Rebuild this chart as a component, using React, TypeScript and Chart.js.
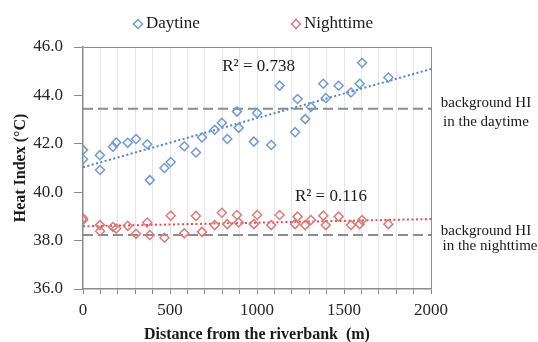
import React, { useEffect, useRef } from "react";
import { Chart, registerables } from "chart.js";
Chart.register(...registerables);

// Distance from the riverbank (m)
const distances = [0, 0, 97, 98, 172, 191, 257, 305, 369, 384, 468, 504, 582, 649, 684, 757, 798, 829, 885, 895, 982, 1001, 1082, 1130, 1219, 1233, 1277, 1310, 1381, 1395, 1469, 1540, 1590, 1604, 1755];
// Heat index, daytime (°C)
const daytime = [41.75, 41.36, 41.53, 40.92, 41.88, 42.05, 42.04, 42.2, 41.98, 40.5, 41.0, 41.25, 41.9, 41.64, 42.26, 42.58, 42.87, 42.2, 43.33, 42.66, 42.09, 43.27, 41.95, 44.4, 42.48, 43.85, 43.02, 43.52, 44.48, 43.89, 44.4, 44.12, 44.48, 45.35, 44.74];
// Heat index, nighttime (°C)
const nighttime = [38.92, 38.85, 38.64, 38.39, 38.56, 38.5, 38.61, 38.28, 38.75, 38.23, 38.12, 39.03, 38.3, 39.02, 38.36, 38.64, 39.15, 38.68, 39.06, 38.75, 38.68, 39.06, 38.64, 39.06, 38.68, 38.99, 38.64, 38.85, 39.03, 38.64, 38.99, 38.64, 38.68, 38.85, 38.68];
// Linear trend lines
const trendX = [0, 2000];
const dayTrend = [41.03, 45.09];
const nightTrend = [38.59, 38.89];
// Background heat index levels
const dayBackground = 43.45;
const nightBackground = 38.23;
// Labels
const seriesNames = ["Daytine", "Nighttime"];
const r2Labels = ["R² = 0.738", "R² = 0.116"];
const r2Anchors = [{ x: 800, y: 45.18 }, { x: 1218, y: 39.84 }];
const bgLabels = [["background HI", "in the daytime"], ["background HI", "in the nighttime"]];

const BLUE = "#6f9ad6";
const RED = "#df7a7a";
const BLUE_LINE = "#4a82d4";
const RED_LINE = "#e0504f";
const GRAY = "#8c8c8c";
const SERIF = "'Liberation Serif', 'Times New Roman', serif";

const textPlugin = {
  id: "texts",
  afterDraw(chart: any) {
    const ctx = chart.ctx;
    const xs = chart.scales.x;
    const ys = chart.scales.y;
    ctx.save();
    // legend
    const legendItems = [
      { name: seriesNames[0], color: BLUE, mx: 138, tx: 146 },
      { name: seriesNames[1], color: RED, mx: 296, tx: 304 },
    ];
    const ly = 24;
    legendItems.forEach((it) => {
      ctx.beginPath();
      ctx.moveTo(it.mx - 4.5, ly);
      ctx.lineTo(it.mx, ly - 4.5);
      ctx.lineTo(it.mx + 4.5, ly);
      ctx.lineTo(it.mx, ly + 4.5);
      ctx.closePath();
      ctx.strokeStyle = it.color;
      ctx.lineWidth = 1.5;
      ctx.stroke();
      ctx.fillStyle = "#1a1a1a";
      ctx.font = `17px ${SERIF}`;
      ctx.textAlign = "left";
      ctx.textBaseline = "middle";
      ctx.fillText(it.name, it.tx, ly);
    });
    // R² labels
    ctx.font = `17px ${SERIF}`;
    ctx.fillStyle = "#1a1a1a";
    r2Labels.forEach((t, i) => {
      ctx.fillText(t, xs.getPixelForValue(r2Anchors[i].x), ys.getPixelForValue(r2Anchors[i].y));
    });
    // background labels
    ctx.font = `15px ${SERIF}`;
    ctx.textAlign = "center";
    const bgLevels = [dayBackground, nightBackground];
    const offsets = [[-6, 13], [-4, 13]];
    bgLabels.forEach((lines, i) => {
      const yy = ys.getPixelForValue(bgLevels[i]);
      const cx = 486;
      ctx.fillText(lines[0], cx, yy + offsets[i][0]);
      ctx.fillText(lines[1], cx + (i === 1 ? 4 : 0), yy + offsets[i][1] - (i === 1 ? 2 : 0));
    });
    ctx.restore();
  },
};

export default function App() {
  const ref = useRef<HTMLCanvasElement>(null);
  useEffect(() => {
    if (!ref.current) return;
    const pts = (ys: number[]) => distances.map((d, i) => ({ x: d, y: ys[i] }));
    const line = (ys: number[]) => trendX.map((d, i) => ({ x: d, y: ys[i] }));
    const flat = (v: number) => trendX.map((d) => ({ x: d, y: v }));
    const chart = new Chart(ref.current, {
      type: "scatter",
      data: {
        datasets: [
          {
            label: seriesNames[0],
            data: pts(daytime),
            pointStyle: "rectRot",
            pointRadius: 4.5,
            borderColor: BLUE,
            backgroundColor: "rgba(0,0,0,0)",
            borderWidth: 1.5,
          },
          {
            label: seriesNames[1],
            data: pts(nighttime),
            pointStyle: "rectRot",
            pointRadius: 4.5,
            borderColor: RED,
            backgroundColor: "rgba(0,0,0,0)",
            borderWidth: 1.5,
          },
          {
            label: "day trend",
            data: line(dayTrend),
            showLine: true,
            pointRadius: 0,
            borderColor: BLUE_LINE,
            borderWidth: 2,
            borderDash: [2, 2.5],
          },
          {
            label: "night trend",
            data: line(nightTrend),
            showLine: true,
            pointRadius: 0,
            borderColor: RED_LINE,
            borderWidth: 2,
            borderDash: [2, 2.5],
          },
          {
            label: "day background",
            data: flat(dayBackground),
            showLine: true,
            pointRadius: 0,
            borderColor: GRAY,
            borderWidth: 2,
            borderDash: [10, 5],
          },
          {
            label: "night background",
            data: flat(nightBackground),
            showLine: true,
            pointRadius: 0,
            borderColor: GRAY,
            borderWidth: 2,
            borderDash: [10, 5],
          },
        ],
      },
      options: {
        responsive: false,
        animation: false,
        devicePixelRatio: 1,
        layout: { padding: { top: 47, right: 107, left: 0, bottom: 0 } },
        plugins: { legend: { display: false }, tooltip: { enabled: false } },
        scales: {
          x: {
            type: "linear",
            min: 0,
            max: 2000,
            afterFit: (s: any) => {
              s.height = 53;
            },
            ticks: {
              stepSize: 100,
              autoSkip: false,
              maxRotation: 0,
              padding: 6,
              color: "#262626",
              font: { family: SERIF, size: 17 },
              callback: (v: any) => (Number(v) % 500 === 0 ? String(v) : ""),
            },
            grid: {
              color: (c: any) => (c.tick && c.tick.value === 2000 ? GRAY : c.tick && c.tick.value === 0 ? "rgba(0,0,0,0)" : "#e6e6e6"),
              tickColor: GRAY,
              tickLength: 5,
            },
            border: { color: GRAY, width: 1.5 },
            title: {
              display: true,
              text: "Distance from the riverbank  (m)",
              color: "#1a1a1a",
              font: { family: SERIF, size: 16, weight: "bold" },
              padding: { top: 0, bottom: -2 },
            },
          },
          y: {
            min: 36,
            max: 46,
            afterFit: (s: any) => {
              s.width = 83;
            },
            ticks: {
              stepSize: 2,
              padding: 11,
              color: "#262626",
              font: { family: SERIF, size: 17 },
              callback: (v: any) => Number(v).toFixed(1),
            },
            grid: {
              color: (c: any) => (c.tick && c.tick.value === 46 ? GRAY : "rgba(0,0,0,0)"),
              tickColor: GRAY,
              tickLength: 9,
            },
            border: { color: GRAY, width: 1.5 },
            title: {
              display: true,
              text: "Heat Index (°C)",
              color: "#1a1a1a",
              font: { family: SERIF, size: 16, weight: "bold" },
              padding: { top: 11, bottom: 0 },
            },
          },
        },
      },
      plugins: [textPlugin],
    } as any);
    return () => chart.destroy();
  }, []);
  return (
    <div style={{ position: "fixed", left: 0, top: 0, width: 538, height: 342, background: "#fff" }}>
      <canvas ref={ref} width={538} height={342} style={{ display: "block", width: 538, height: 342 }} />
    </div>
  );
}
